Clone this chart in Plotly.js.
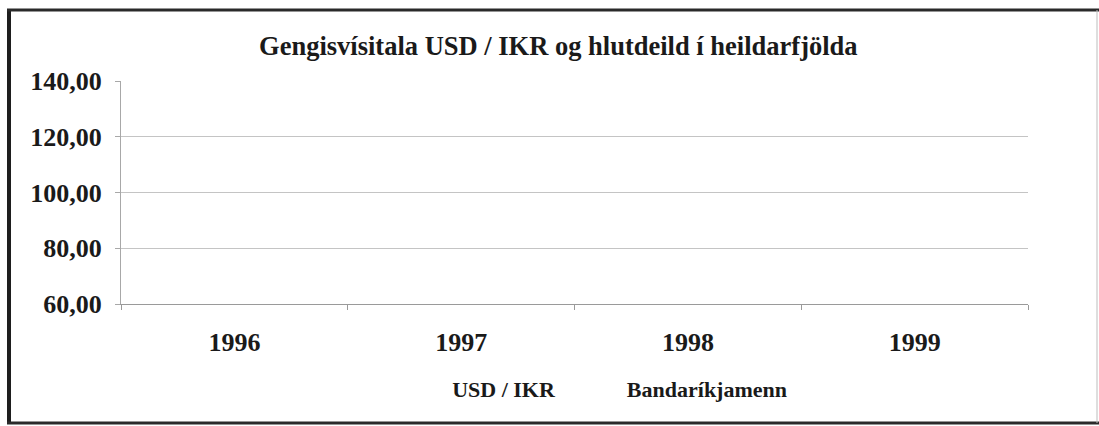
<!DOCTYPE html>
<html>
<head>
<meta charset="utf-8">
<script src="https://cdn.plot.ly/plotly-3.0.1.min.js"></script>
<style>
html,body{margin:0;padding:0;background:#fff;}
#chart{width:1099px;height:426px;}
</style>
</head>
<body>
<div id="chart"></div>
<script>
// Data (no data lines are visible in the reference; series left empty)
var years = ['1996', '1997', '1998', '1999'];
var usdIkr = [null, null, null, null];
var bandarikjamenn = [null, null, null, null];
var seriesNames = ['USD / IKR', 'Bandaríkjamenn'];
var yTickVals = [60, 80, 100, 120, 140];
var yTickText = ['60,00', '80,00', '100,00', '120,00', '140,00'];

var L = 121, R = 1028, T = 81, B = 304;
function px(xp){ return (xp - L) / (R - L); }
function py(yp){ return (B - yp) / (B - T); }

var serif = 'Liberation Serif';

var traces = [
  {x: years, y: usdIkr, name: seriesNames[0], type: 'scatter', mode: 'lines',
   line: {color: 'rgba(0,0,0,0)', width: 2}, connectgaps: false, legend: 'legend'},
  {x: years, y: bandarikjamenn, name: seriesNames[1], type: 'scatter', mode: 'lines',
   line: {color: 'rgba(0,0,0,0)', width: 2}, connectgaps: false, legend: 'legend2'}
];

var legendBase = {
  orientation: 'h',
  xref: 'container', yref: 'container',
  xanchor: 'left',
  y: 0.088, yanchor: 'middle',
  font: {family: serif, size: 22, color: '#1a1a1a', weight: 'bold'},
  itemwidth: 30,
  bgcolor: 'rgba(0,0,0,0)', borderwidth: 0
};

var layout = {
  width: 1099, height: 426,
  paper_bgcolor: '#ffffff', plot_bgcolor: '#ffffff',
  margin: {l: L, r: 1099 - R, t: T, b: 426 - B},
  font: {family: serif, color: '#1a1a1a'},
  title: {
    text: '<b>Gengisvísitala USD / IKR og hlutdeild í heildarfjölda</b>',
    font: {family: serif, size: 26.5, color: '#1a1a1a'},
    x: 0.508, xanchor: 'center', xref: 'container',
    y: 0.893, yanchor: 'middle', yref: 'container'
  },
  xaxis: {
    type: 'category',
    range: [-0.5, 3.5],
    showgrid: false,
    showline: true, linecolor: '#9a9a9a', linewidth: 1,
    ticks: 'outside', ticklen: 5, tickcolor: '#9a9a9a',
    tickson: 'boundaries',
    tickfont: {family: serif, size: 26, color: '#1a1a1a'},
    ticklabelstandoff: 15,
    zeroline: false, fixedrange: true
  },
  yaxis: {
    range: [60, 140],
    tickvals: yTickVals, ticktext: yTickText.map(function(t){ return '<b>' + t + '</b>'; }),
    showgrid: true, gridcolor: '#c4c4c4', gridwidth: 1,
    showline: true, linecolor: '#a8a8a8', linewidth: 1,
    ticks: 'outside', ticklen: 5, tickcolor: '#a8a8a8',
    tickfont: {family: serif, size: 26, color: '#1a1a1a'},
    ticklabelstandoff: 8,
    zeroline: false, fixedrange: true
  },
  showlegend: true,
  legend: Object.assign({}, legendBase, {x: 0.375}),
  legend2: Object.assign({}, legendBase, {x: 0.534}),
  shapes: [
    {type: 'line', xref: 'paper', yref: 'paper', x0: px(9), x1: px(9), y0: py(423), y1: py(10),
     line: {color: '#1e1e1e', width: 4}},
    {type: 'line', xref: 'paper', yref: 'paper', x0: px(7), x1: px(1099), y0: py(10), y1: py(10),
     line: {color: '#2a2a2a', width: 3}},
    {type: 'line', xref: 'paper', yref: 'paper', x0: px(7), x1: px(1099), y0: py(423), y1: py(423),
     line: {color: '#2a2a2a', width: 3}},
    {type: 'line', xref: 'paper', yref: 'paper', x0: px(1097), x1: px(1097), y0: py(423), y1: py(10),
     line: {color: '#bdbdbd', width: 1}}
  ]
};

layout.xaxis.ticktext = years.map(function(t){ return '<b>' + t + '</b>'; });
layout.xaxis.tickvals = years;

Plotly.newPlot('chart', traces, layout, {displayModeBar: false, staticPlot: true});
</script>
</body>
</html>
